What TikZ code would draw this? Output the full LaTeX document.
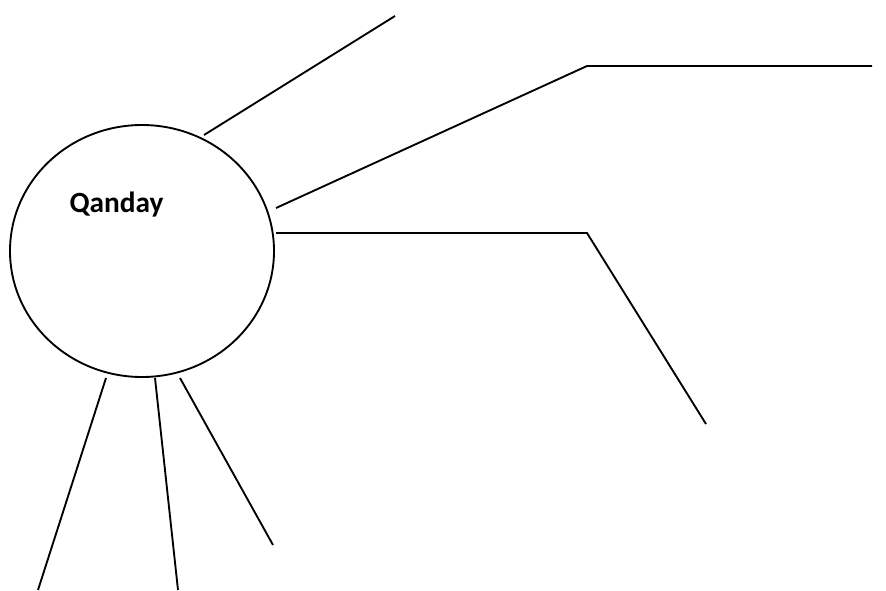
\documentclass[tikz,border=0pt]{standalone}
\usepackage{fontspec}
\setmainfont{Carlito}
\usetikzlibrary{shapes.geometric}

\begin{document}
\begin{tikzpicture}[
  x=0.75pt, y=-0.75pt,
  line width=1.4pt,
  bubble/.style={draw, ellipse, minimum width=198pt, minimum height=189pt,
                 inner sep=0pt},
  lbl/.style={font=\fontsize{22}{26}\selectfont\bfseries, inner sep=0pt}]

  \useasboundingbox (0,0) rectangle (886,590);

  % central bubble
  \node[bubble] (q) at (142,251) {};
  \node[lbl] (qtext) at (116.5,204.5) {Qanday};

  % line ends
  \coordinate (a0) at (204,135);  \coordinate (a1) at (395,16);
  \coordinate (b0) at (276,208);  \coordinate (b1) at (587,66);
  \coordinate (b2) at (872,66);
  \coordinate (c0) at (276,233);  \coordinate (c1) at (587,233);
  \coordinate (c2) at (706,424);
  \coordinate (d0) at (106,378);  \coordinate (d1) at (38,590);
  \coordinate (e0) at (155,378);  \coordinate (e1) at (178,590);
  \coordinate (f0) at (180,378);  \coordinate (f1) at (273,545);

  % rays
  \draw (a0) -- (a1);
  \draw (b0) -- (b1) -- (b2);
  \draw (c0) -- (c1) -- (c2);
  \draw (d0) -- (d1);
  \draw (e0) -- (e1);
  \draw (f0) -- (f1);
\end{tikzpicture}
\end{document}
